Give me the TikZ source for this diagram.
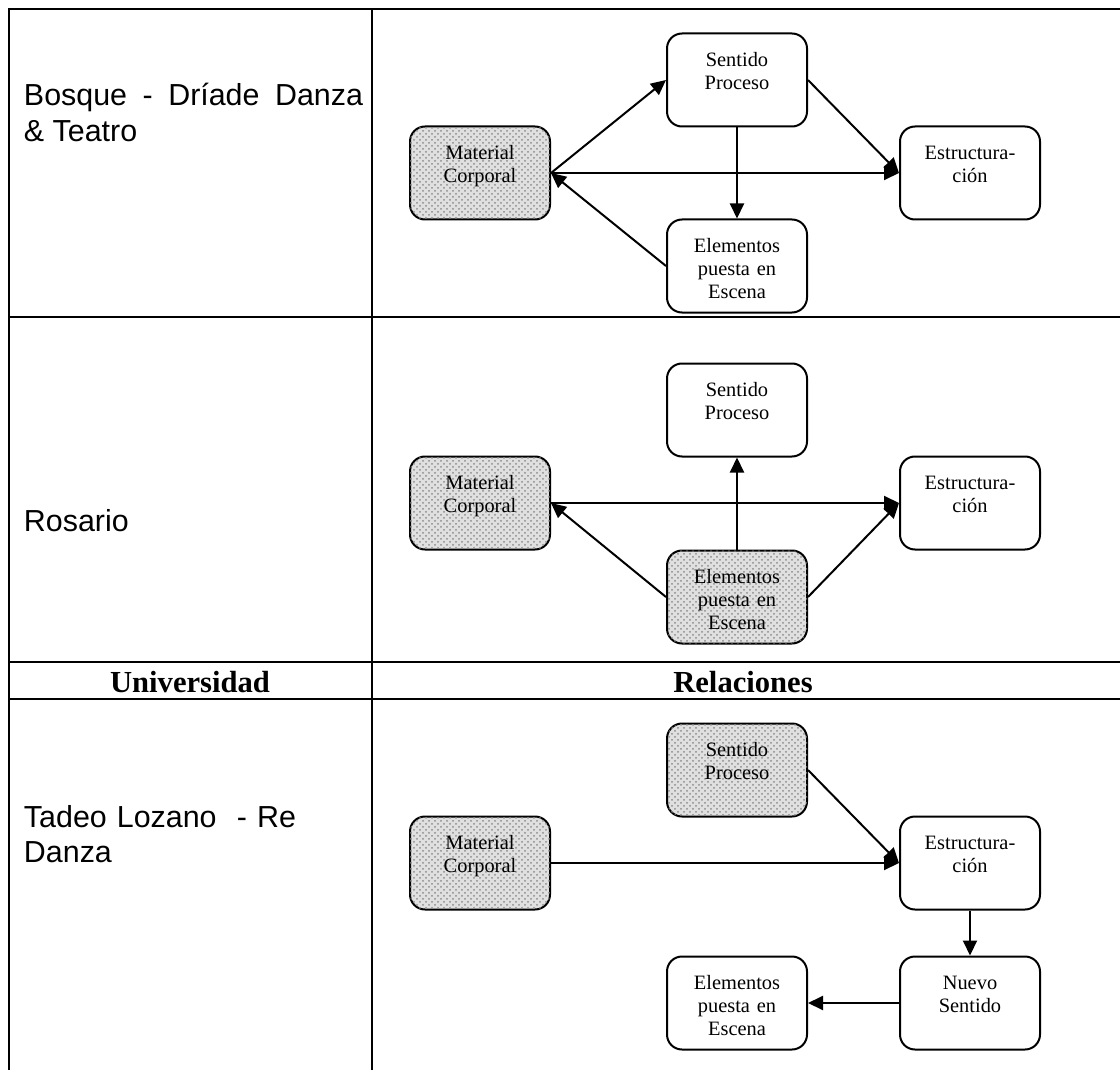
\documentclass[tikz,border=0pt]{standalone}
\usepackage{fontspec}
\setmainfont{Liberation Serif}
\newfontfamily\arialfont{Liberation Sans}
\usetikzlibrary{arrows.meta,positioning,patterns}

\begin{document}
\begin{tikzpicture}[
      x = 0.5pt,y = -0.5pt,line width = 1pt,
      caja/.style = {rectangle,draw,rounded corners = 7.5pt,minimum width = 70pt,
        inner xsep = 2pt,inner ysep = 0pt,text width = 66pt,align = center,
        text height = 16.5pt,text depth = 30pt,
        font = \fontsize{10.2}{11.5}\selectfont},
      gris/.style = {fill = black!12,postaction = {pattern = crosshatch dots,pattern color = black!45}},
      flecha/.style = {-{Triangle[length = 7.5pt,width = 7pt]}},
      uni/.style = {inner sep = 0pt,text width = 169.5pt,align = justify,anchor = base west,
        font = \arialfont\fontsize{15.2}{17.5}\selectfont},
      titulo/.style = {inner sep = 0pt,anchor = base,font = \bfseries\fontsize{15.3}{17}\selectfont},
      tabla/.style = {line width = 1.35pt}
    ]
      \useasboundingbox (0,0) rectangle (1120,1070);

      % tabla
      \draw [tabla] (1120,9) -- (9,9) -- (9,1075);
      \draw [tabla] (372,9) -- (372,1075);
      \foreach \y in {317,662,699}
        \draw [tabla] (9,\y) -- (1120,\y);

      \node (u1)[uni] at (23,106) {Bosque - Dríade Danza\linebreak \& Teatro};
      \node (u2)[uni] at (23,531) {Rosario};
      \node (u3)[uni,align = left] at (23,827) {Tadeo Lozano~ - Re\\Danza};
      \node (huni)[titulo] at (190,692) {Universidad};
      \node (hrel)[titulo] at (743,692) {Relaciones};

      % fila 1
      \node (m1)[caja,gris] at (480,173) {Material\\Corporal};
      \node (s1)[caja] at (737,80) {Sentido\\Proceso};
      \node (r1)[caja] at (970,173) {Estructura-\\ción};
      \node (e1)[caja] at (737,266) {Elementos\\puesta en\\Escena};

      \draw [flecha] (m1.east) -- (s1.west);
      \draw [flecha] (m1.east) -- (r1.west);
      \draw [flecha] (e1.west) -- (m1.east);
      \draw [flecha] (s1.south) -- (e1.north);
      \draw [flecha] (s1.east) -- (r1.west);

      % fila 2
      \node (m2)[caja,gris] at (480,503) {Material\\Corporal};
      \node (s2)[caja] at (737,410) {Sentido\\Proceso};
      \node (r2)[caja] at (970,503) {Estructura-\\ción};
      \node (e2)[caja,gris] at (737,597) {Elementos\\puesta en\\Escena};

      \draw [flecha] (m2.east) -- (r2.west);
      \draw [flecha] (e2.west) -- (m2.east);
      \draw [flecha] (e2.north) -- (s2.south);
      \draw [flecha] (e2.east) -- (r2.west);

      % fila 3
      \node (s3)[caja,gris] at (737,770) {Sentido\\Proceso};
      \node (m3)[caja,gris] at (480,863) {Material\\Corporal};
      \node (r3)[caja] at (970,863) {Estructura-\\ción};
      \node (n3)[caja] at (970,1003) {Nuevo\\Sentido};
      \node (e3)[caja] at (737,1003) {Elementos\\puesta en\\Escena};

      \draw [flecha] (m3.east) -- (r3.west);
      \draw [flecha] (s3.east) -- (r3.west);
      \draw [flecha] (r3.south) -- (n3.north);
      \draw [flecha] (n3.west) -- (e3.east);
    \end{tikzpicture}
\end{document}
